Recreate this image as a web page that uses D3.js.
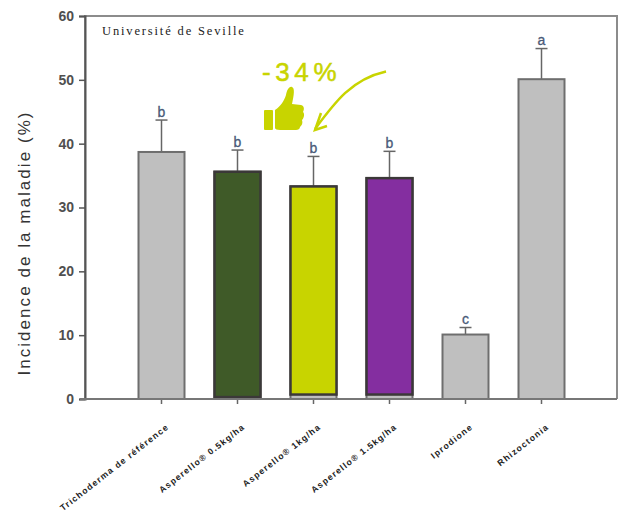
<!DOCTYPE html>
<html>
<head>
<meta charset="utf-8">
<script src="https://cdn.jsdelivr.net/npm/d3@7"></script>
<style>
html, body { margin: 0; padding: 0; background: #fff; }
svg { display: block; }
</style>
</head>
<body>
<div id="chart"></div>
<script>
var categories = ["Trichoderma de référence", "Asperello® 0.5kg/ha", "Asperello® 1kg/ha", "Asperello® 1.5kg/ha", "Iprodione", "Rhizoctonia"];
var values = [38.7, 35.6, 33.3, 34.6, 10.1, 50.1];
var errorTops = [43.7, 39, 38, 38.8, 11.2, 54.9];
var letters = ["b", "b", "b", "b", "c", "a"];
var fills = ["#bfbfbf", "#3f5a28", "#c8d400", "#842ea0", "#bfbfbf", "#bfbfbf"];
var overlayBases = [0, 0.3, 0.7, 0.7, 0, 0];
var yTicks = [0, 10, 20, 30, 40, 50, 60];

var width = 624, height = 514;
var margin = { top: 16, right: 7, bottom: 115, left: 85 };

var svg = d3.select("#chart").append("svg")
    .attr("width", width)
    .attr("height", height);

var x = d3.scaleBand()
    .domain(categories)
    .range([margin.left + 38.5, width - margin.right - 37.5]);

var y = d3.scaleLinear()
    .domain([0, 60])
    .range([height - margin.bottom, margin.top]);

var barWidth = 46;
var cx = function(d) { return x(d) + x.bandwidth() / 2; };

// plot frame
svg.append("path")
    .attr("d", "M" + margin.left + "," + y(0) + "V" + y(60) + "H" + (width - margin.right) + "V" + y(0))
    .attr("fill", "none")
    .attr("stroke", "#8c8c8c")
    .attr("stroke-width", 2);

// y axis
var yAxis = d3.axisLeft(y).tickValues(yTicks).tickSize(6).tickPadding(5);
var gy = svg.append("g")
    .attr("transform", "translate(" + margin.left + ",0)")
    .call(yAxis);
gy.select(".domain").attr("stroke", "#555").attr("stroke-width", 2);
gy.selectAll(".tick line").attr("stroke", "#555").attr("stroke-width", 1.5);
gy.selectAll(".tick text")
    .attr("font-family", "'Liberation Sans', Arial, sans-serif")
    .attr("font-weight", "bold")
    .attr("font-size", 14)
    .attr("fill", "#4f4f4f");

// error bars
var errors = svg.selectAll(".err").data(categories).enter().append("g").attr("class", "err");
errors.append("line")
    .attr("x1", cx).attr("x2", cx)
    .attr("y1", function(d, i) { return y(values[i]); })
    .attr("y2", function(d, i) { return y(errorTops[i]); })
    .attr("stroke", "#666").attr("stroke-width", 1.5);
errors.append("line")
    .attr("x1", function(d) { return cx(d) - 6; })
    .attr("x2", function(d) { return cx(d) + 6; })
    .attr("y1", function(d, i) { return y(errorTops[i]); })
    .attr("y2", function(d, i) { return y(errorTops[i]); })
    .attr("stroke", "#666").attr("stroke-width", 1.5);

// base grey bars, the coloured ones sit on top
svg.selectAll(".bar").data(categories).enter().append("rect")
    .attr("class", "bar")
    .attr("x", function(d) { return cx(d) - barWidth / 2; })
    .attr("width", barWidth)
    .attr("y", function(d, i) { return y(values[i]); })
    .attr("height", function(d, i) { return y(0) - y(values[i]); })
    .attr("fill", "#bfbfbf")
    .attr("stroke", "#6e6e6e")
    .attr("stroke-width", 2);

svg.selectAll(".overlay").data(categories.filter(function(d, i) { return overlayBases[i] > 0; })).enter().append("rect")
    .attr("class", "overlay")
    .attr("x", function(d) { return cx(d) - barWidth / 2; })
    .attr("width", barWidth)
    .attr("y", function(d) { return y(values[categories.indexOf(d)]); })
    .attr("height", function(d) {
        var i = categories.indexOf(d);
        return y(overlayBases[i]) - y(values[i]);
    })
    .attr("fill", function(d) { return fills[categories.indexOf(d)]; })
    .attr("stroke", "#3b3838")
    .attr("stroke-width", 2.5);

// x axis line and ticks
var xAxis = d3.axisBottom(x).tickSize(5).tickFormat("");
var gx = svg.append("g")
    .attr("transform", "translate(0," + y(0) + ")")
    .call(xAxis);
gx.select(".domain").remove();
gx.selectAll(".tick line").attr("stroke", "#666").attr("stroke-width", 1.5);
svg.append("line")
    .attr("x1", margin.left - 5).attr("x2", width - margin.right)
    .attr("y1", y(0)).attr("y2", y(0))
    .attr("stroke", "#777").attr("stroke-width", 2);

// significance letters
svg.selectAll(".letter").data(categories).enter().append("text")
    .attr("class", "letter")
    .attr("x", cx)
    .attr("y", function(d, i) { return y(errorTops[i]) - 3.5; })
    .attr("text-anchor", "middle")
    .attr("font-family", "'Liberation Sans', Arial, sans-serif")
    .attr("font-size", 14)
    .attr("stroke", "#4a5a78")
    .attr("stroke-width", 0.3)
    .attr("fill", "#4a5a78")
    .text(function(d, i) { return letters[i]; });

// rotated category labels
svg.selectAll(".cat").data(categories).enter().append("text")
    .attr("class", "cat")
    .attr("transform", function(d) { return "translate(" + (cx(d) + 8) + "," + (y(0) + 29) + ") rotate(-38)"; })
    .attr("text-anchor", "end")
    .attr("font-family", "'Liberation Sans', Arial, sans-serif")
    .attr("font-weight", "bold")
    .attr("font-size", 8.7)
    .attr("letter-spacing", 1.2)
    .attr("fill", "#222")
    .text(function(d) { return d; });

// y title
svg.append("text")
    .attr("transform", "translate(30,243) rotate(-90)")
    .attr("text-anchor", "middle")
    .attr("font-family", "'Liberation Sans', Arial, sans-serif")
    .attr("font-size", 17)
    .attr("letter-spacing", 2.05)
    .attr("fill", "#333")
    .text("Incidence de la maladie (%)");

// source note
svg.append("text")
    .attr("x", 102).attr("y", 35)
    .attr("font-family", "'Liberation Serif', serif")
    .attr("font-size", 12.5)
    .attr("letter-spacing", 1.85)
    .attr("fill", "#222")
    .text("Université de Seville");

// -34% annotation
var accent = "#c8d400";
svg.append("text")
    .attr("x", 262).attr("y", 81)
    .attr("font-family", "'Liberation Sans', Arial, sans-serif")
    .attr("font-size", 26)
    .attr("letter-spacing", 4.6)
    .attr("fill", accent)
    .attr("stroke", accent)
    .attr("stroke-width", 0.5)
    .text("-34%");

// thumb icon
var thumb = svg.append("g").attr("fill", accent);
thumb.append("rect").attr("x", 264).attr("y", 110).attr("width", 9).attr("height", 20).attr("rx", 1);
thumb.append("path")
    .attr("d", "M275,110 C281,106 284,101 286,95 C287,90 289,86 292,87 C295,88 294,95 292,104 L301,105 C305,106 304,110 303,112 C305,114 304,118 302,120 C303,123 302,125 300,127 C300,129 298,130 296,130 L280,130 C277,130 275,129 275,128 Z");

// arrow
svg.append("path")
    .attr("d", "M386,71.5 C352,79 335,102 315,129")
    .attr("fill", "none")
    .attr("stroke", accent)
    .attr("stroke-width", 2.5);
svg.append("path")
    .attr("d", "M321,113 L315,130 L327,126")
    .attr("fill", "none")
    .attr("stroke", accent)
    .attr("stroke-width", 2.5);
</script>
</body>
</html>
